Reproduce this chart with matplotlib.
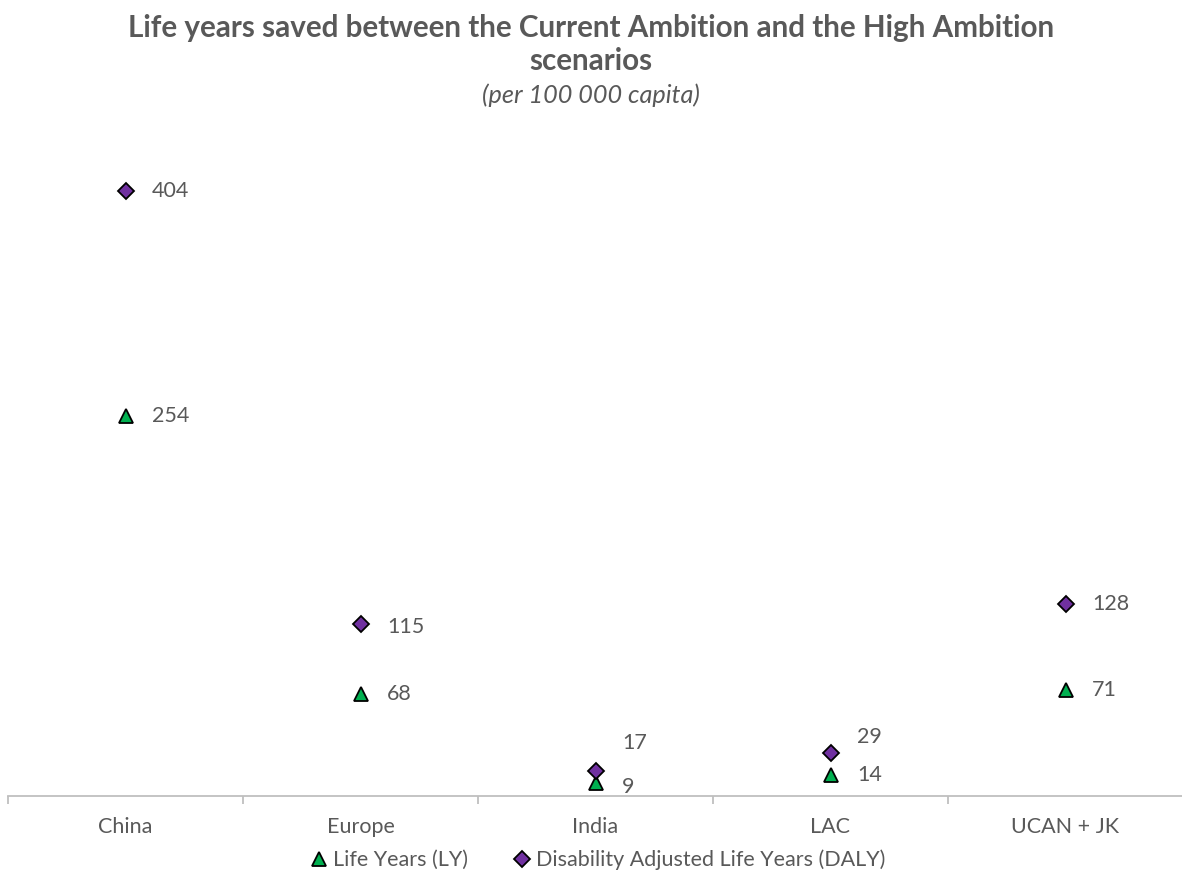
import matplotlib
matplotlib.use("Agg")
import matplotlib.pyplot as plt
from matplotlib.lines import Line2D

categories = ["China", "Europe", "India", "LAC", "UCAN + JK"]
ly_values = [254, 68, 9, 14, 71]
daly_values = [404, 115, 17, 29, 128]
ly_label = "Life Years (LY)"
daly_label = "Disability Adjusted Life Years (DALY)"

plt.rcParams['font.family'] = ['Lato', 'DejaVu Sans']
TXT = "#595959"
GREEN = "#00B050"
PURPLE = "#7030A0"
FS = 15.5
TRI_MS = 10
DIA_MS = 8.5

fig = plt.figure(figsize=(11.82, 8.9), dpi=100)
ax = fig.add_axes([8/1182, 1-796/890, 1175/1182, (796-122)/890])
x = list(range(len(categories)))

ax.plot(x, ly_values, linestyle='none', marker='^', markersize=TRI_MS,
        markerfacecolor=GREEN, markeredgecolor='black', markeredgewidth=1.3, zorder=3)
ax.plot(x, daly_values, linestyle='none', marker='D', markersize=DIA_MS,
        markerfacecolor=PURPLE, markeredgecolor='black', markeredgewidth=1.3, zorder=4)

# data labels (offsets in points)
ly_offsets = {0: (19, 0), 1: (19, 0), 2: (19, -3), 3: (19, 0), 4: (19, 0)}
daly_offsets = {0: (19, 0), 1: (19, -2), 2: (19, 20), 3: (19, 11), 4: (19, 0)}
for i in x:
    ax.annotate(str(ly_values[i]), (i, ly_values[i]), xytext=ly_offsets[i],
                textcoords='offset points', ha='left', va='center', fontsize=FS, color=TXT)
    ax.annotate(str(daly_values[i]), (i, daly_values[i]), xytext=daly_offsets[i],
                textcoords='offset points', ha='left', va='center', fontsize=FS, color=TXT)

ax.set_xlim(-0.5, len(categories) - 0.5)
ax.set_ylim(0, 450)
for s in ['top', 'right', 'left']:
    ax.spines[s].set_visible(False)
ax.spines['bottom'].set_color('#BFBFBF')
ax.spines['bottom'].set_linewidth(1.3)
ax.set_yticks([])
ax.set_xticks(x)
ax.set_xticklabels(categories, fontsize=FS, color=TXT)
ax.tick_params(axis='x', which='major', length=0, pad=15)
ax.set_xticks([i - 0.5 for i in range(len(categories) + 1)], minor=True)
ax.tick_params(axis='x', which='minor', length=6, width=1.3, color='#BFBFBF', direction='out')

fig.text(0.5, 1-28/890, "Life years saved between the Current Ambition and the High Ambition",
         ha='center', va='center', fontsize=21.3, fontweight='bold', color=TXT)
fig.text(0.5, 1-61/890, "scenarios", ha='center', va='center', fontsize=21.3,
         fontweight='bold', color=TXT)
fig.text(0.5, 1-95/890, "(per 100 000 capita)", ha='center', va='center', fontsize=18.2,
         style='italic', color=TXT)

handles = [Line2D([], [], linestyle='none', marker='^', markersize=TRI_MS, markerfacecolor=GREEN,
                  markeredgecolor='black', markeredgewidth=1.3),
           Line2D([], [], linestyle='none', marker='D', markersize=DIA_MS, markerfacecolor=PURPLE,
                  markeredgecolor='black', markeredgewidth=1.3)]
leg = fig.legend(handles, [ly_label, daly_label], loc='center',
                 bbox_to_anchor=(0.5 + 6/1182, 1-860/890),
                 ncol=2, frameon=False, fontsize=FS, handletextpad=0.15, columnspacing=2.0,
                 handlelength=1.0)
for t in leg.get_texts():
    t.set_color(TXT)

fig.savefig("out.png", dpi=100)
